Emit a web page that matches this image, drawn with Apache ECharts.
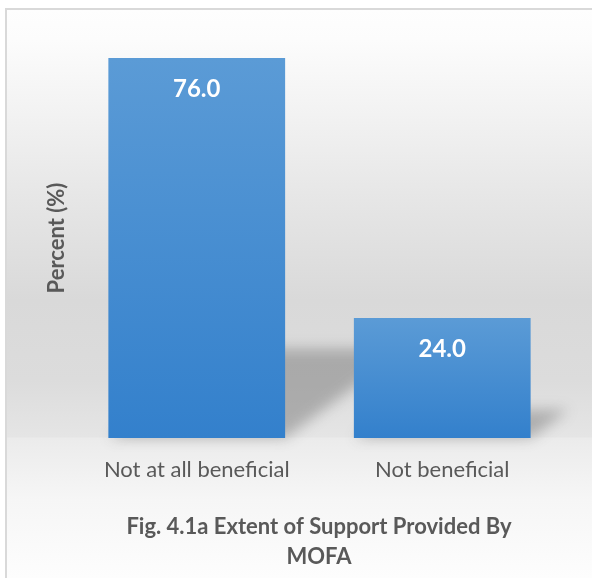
<!DOCTYPE html>
<html>
<head>
<meta charset="utf-8">
<script src="https://cdn.jsdelivr.net/npm/echarts@6/dist/echarts.min.js"></script>
<style>
  html, body { margin: 0; padding: 0; background: #ffffff; }
  #chart { width: 592px; height: 578px; }
</style>
</head>
<body>
<div id="chart"></div>
<script>
// Extent of support provided by MOFA (percent of respondents)
const categories = ['Not at all beneficial', 'Not beneficial'];
const percentValues = [76.0, 24.0];
const chartTitle = 'Fig. 4.1a Extent of Support Provided By\nMOFA';
const yAxisName = 'Percent (%)';

const FONT = 'Lato, "Open Sans", sans-serif';
const TEXT = '#595959';
const BAR_RATIO = 0.72;

const chart = echarts.init(document.getElementById('chart'), null, { renderer: 'canvas' });

// Perspective floor shadow cast by each bar, drawn off-canvas and brought back through
// the blurred canvas shadow so that its edges come out soft.
function renderShadow(params, api) {
  const cat = api.value(0);
  const base = api.coord([cat, 0]);
  const top = api.coord([cat, api.value(1)]);
  const bw = api.size([1, 0])[0] * BAR_RATIO;
  const xl = base[0] - bw / 2;
  const xr = base[0] + bw / 2;
  const h = (base[1] - top[1]) * 0.235;
  const k = 1.35 * h;
  const off = 3000;
  return {
    type: 'polygon',
    shape: {
      points: [
        [xl - off, base[1]],
        [xr - off, base[1]],
        [xr + k - off, base[1] - h],
        [xl + k - off, base[1] - h]
      ]
    },
    style: {
      fill: '#000',
      shadowColor: 'rgba(115,115,115,0.48)',
      shadowBlur: 14,
      shadowOffsetX: off,
      shadowOffsetY: 0
    },
    silent: true
  };
}

const option = {
  animation: false,
  title: {
    text: chartTitle,
    left: 314,
    textAlign: 'center',
    top: 507,
    textStyle: { fontFamily: FONT, fontWeight: 'bold', fontSize: 22, color: TEXT, lineHeight: 30 }
  },
  grid: { left: 74, right: 27, top: 38, bottom: 140, containLabel: false, outerBoundsMode: 'none' },
  xAxis: {
    type: 'category',
    data: categories,
    axisLine: { show: false },
    axisTick: { show: false },
    axisLabel: { interval: 0, margin: 21, fontFamily: FONT, fontSize: 22, color: TEXT }
  },
  yAxis: {
    type: 'value',
    min: 0,
    max: 80,
    name: yAxisName,
    nameLocation: 'middle',
    nameGap: 6,
    nameRotate: 90,
    nameTextStyle: { fontFamily: FONT, fontWeight: 'bold', fontSize: 22, color: TEXT },
    axisLine: { show: false },
    axisTick: { show: false },
    axisLabel: { show: false },
    splitLine: { show: false }
  },
  series: [
    {
      type: 'custom',
      z: 1,
      clip: false,
      renderItem: renderShadow,
      encode: { x: 0, y: 1 },
      data: categories.map((c, i) => [c, percentValues[i]])
    },
    {
      type: 'bar',
      z: 3,
      barWidth: (BAR_RATIO * 100) + '%',
      data: percentValues,
      itemStyle: {
        color: new echarts.graphic.LinearGradient(0, 0, 0, 1, [
          { offset: 0, color: '#5b9bd6' },
          { offset: 1, color: '#3380cc' }
        ])
      },
      label: {
        show: true,
        position: 'insideTop',
        distance: 19,
        formatter: p => p.value.toFixed(1),
        fontFamily: FONT,
        fontWeight: 'bold',
        fontSize: 24,
        color: '#ffffff'
      }
    }
  ]
};

chart.setOption(option);

// Back wall and floor behind the plot, split at the value-axis baseline
const baseY = chart.convertToPixel({ yAxisIndex: 0 }, 0);
const y0 = 9, y1 = 578;
const at = y => Math.min(1, Math.max(0, (y - y0) / (y1 - y0)));
chart.setOption({
  graphic: [
    {
      type: 'rect',
      z: -10,
      silent: true,
      shape: { x: 6, y: 9, width: 620, height: 620 },
      style: {
        fill: new echarts.graphic.LinearGradient(0, y0, 0, y1, [
          { offset: 0, color: '#fefefe' },
          { offset: at(40), color: '#fcfcfc' },
          { offset: at(100), color: '#f4f4f4' },
          { offset: at(200), color: '#e6e6e6' },
          { offset: at(300), color: '#d9d9d9' },
          { offset: at(380), color: '#dcdcdc' },
          { offset: at(baseY - 1), color: '#e5e5e5' },
          { offset: at(baseY), color: '#ebebeb' },
          { offset: at(500), color: '#f6f6f6' },
          { offset: 1, color: '#fdfdfd' }
        ], true),
        stroke: '#d9d9d9',
        lineWidth: 2
      }
    }
  ]
});
</script>
</body>
</html>
